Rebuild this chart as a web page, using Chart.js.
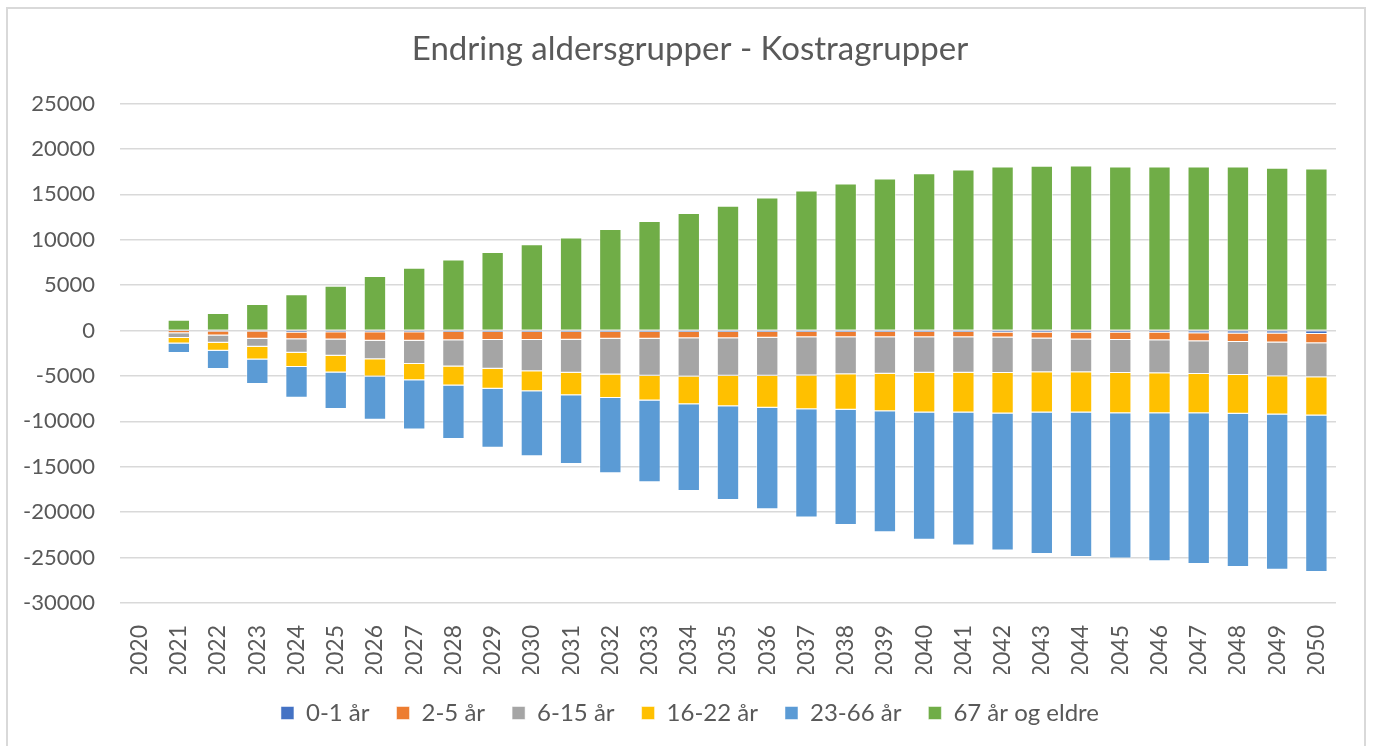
<!DOCTYPE html>
<html>
<head>
<meta charset="utf-8">
<script src="https://cdn.jsdelivr.net/npm/chart.js@4.4.1/dist/chart.umd.min.js"></script>
<style>
    body { margin: 0; background: #fff; }
    #frame { position: absolute; left: 6px; top: 7px; width: 1356px; height: 760px; border: 2px solid #d9d9d9; }
    #myChart { position: absolute; left: 0; top: 0; }
</style>
</head>
<body>
<div id="frame"></div>
<canvas id="myChart" width="1373" height="746"></canvas>
<script>
const years = ['2020', '2021', '2022', '2023', '2024', '2025', '2026', '2027', '2028', '2029', '2030',
    '2031', '2032', '2033', '2034', '2035', '2036', '2037', '2038', '2039', '2040',
    '2041', '2042', '2043', '2044', '2045', '2046', '2047', '2048', '2049', '2050'];

const age0to1 = [0, -50, -100, -100, -200, -170, -170, -170, -150, -150, -150,
    -150, -150, -150, -150, -150, -150, -150, -150, -150, -150,
    -150, -200, -200, -200, -220, -220, -300, -330, -330, -370];
const age2to5 = [0, -250, -440, -810, -740, -810, -960, -960, -920, -880, -880,
    -850, -740, -740, -700, -700, -630, -590, -590, -590, -590,
    -590, -570, -660, -770, -810, -850, -880, -920, -990, -1030];
const age6to15 = [0, -520, -810, -880, -1510, -1800, -2020, -2540, -2870, -3160, -3440,
    -3640, -3940, -4080, -4200, -4120, -4200, -4200, -4080, -4010, -3900,
    -3900, -3900, -3720, -3610, -3640, -3640, -3610, -3640, -3720, -3750];
const age16to22 = [0, -590, -880, -1400, -1550, -1840, -1910, -1800, -2100, -2210, -2220,
    -2470, -2580, -2720, -3050, -3350, -3530, -3720, -3900, -4120, -4380,
    -4380, -4450, -4450, -4450, -4420, -4380, -4310, -4270, -4200, -4200];
const age23to66 = [0, -1070, -1990, -2690, -3390, -4010, -4750, -5410, -5890, -6510, -7160,
    -7590, -8290, -9010, -9570, -10350, -11160, -11930, -12690, -13350, -14020,
    -14650, -15100, -15560, -15900, -16020, -16320, -16600, -16880, -17090, -17240];
const age67plus = [0, 1190, 1950, 2940, 4010, 4930, 6000, 6930, 7820, 8670, 9520,
    10260, 11190, 12070, 12960, 13740, 14670, 15440, 16190, 16740, 17330,
    17740, 18070, 18150, 18190, 18070, 18070, 18070, 18070, 17930, 17850];

const textColor = '#595959';
const gridColor = '#d9d9d9';

function bars(label, data, color) {
    return {
        label: label,
        data: data,
        backgroundColor: color,
        borderColor: 'rgba(255,255,255,0.5)',
        borderWidth: 1,
        stack: 'a',
        categoryPercentage: 0.57,
        barPercentage: 1
    };
}

var ctx = document.getElementById('myChart').getContext('2d');
var chart = new Chart(ctx, {
    type: 'bar',
    data: {
        labels: years,
        datasets: [
            bars('0-1 år', age0to1, '#4472c4'),
            bars('2-5 år', age2to5, '#ed7d31'),
            bars('6-15 år', age6to15, '#a5a5a5'),
            bars('16-22 år', age16to22, '#ffc000'),
            bars('23-66 år', age23to66, '#5b9bd5'),
            bars('67 år og eldre', age67plus, '#70ad47')
        ]
    },
    options: {
        responsive: false,
        animation: false,
        layout: { padding: { left: 10, right: 3, top: 0, bottom: 11 } },
        plugins: {
            title: {
                display: true,
                text: 'Endring aldersgrupper - Kostragrupper',
                color: textColor,
                font: { family: 'Lato', size: 33, weight: 'normal' },
                padding: { top: 30, bottom: 34 }
            },
            legend: {
                position: 'bottom',
                labels: {
                    color: textColor,
                    font: { family: 'Lato', size: 24 },
                    boxWidth: 13,
                    boxHeight: 13,
                    padding: 27
                }
            },
            tooltip: { enabled: false }
        },
        scales: {
            x: {
                stacked: true,
                grid: { display: false },
                border: { display: false },
                ticks: {
                    color: textColor,
                    font: { family: 'Lato', size: 23 },
                    minRotation: 90,
                    maxRotation: 90,
                    padding: 14
                },
                afterFit: function (scale) { scale.height = 71; }
            },
            y: {
                stacked: true,
                min: -30000,
                max: 25000,
                grid: { color: gridColor, lineWidth: 1.5, drawTicks: false },
                border: { display: false },
                ticks: {
                    stepSize: 5000,
                    color: textColor,
                    font: { family: 'Lato', size: 22 },
                    padding: 25,
                    callback: function (value) { return String(value); }
                },
                afterFit: function (scale) { scale.width = 110; }
            },
            // empty right-hand spacer so title and legend sit centred as in the original
            spacer: {
                position: 'right',
                grid: { display: false },
                border: { display: false },
                ticks: { display: false },
                afterFit: function (scale) { scale.width = 34; }
            }
        }
    }
});
</script>
</body>
</html>
